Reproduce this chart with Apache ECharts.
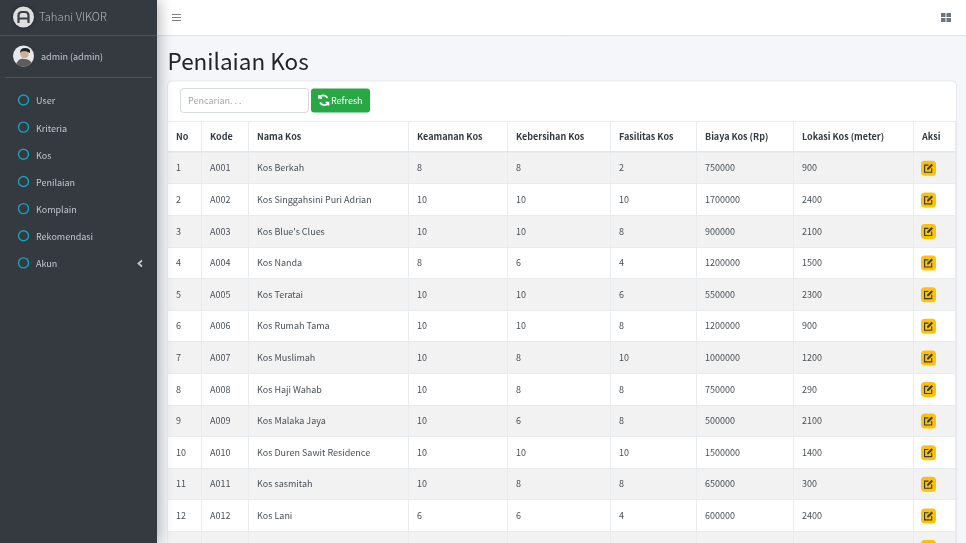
<!DOCTYPE html>
<html>
<head>
<meta charset="utf-8">
<title>Penilaian Kos</title>
<script src="https://cdn.jsdelivr.net/npm/echarts@6/dist/echarts.min.js"></script>
<style>
html,body{margin:0;padding:0;background:#f4f6f9;}
#main{width:966px;height:543px;}
</style>
</head>
<body>
<div id="main"></div>
<script>
// data
var columnNames = ['No','Kode','Nama Kos','Keamanan Kos','Kebersihan Kos','Fasilitas Kos','Biaya Kos (Rp)','Lokasi Kos (meter)','Aksi'];
var rowNo = ['1','2','3','4','5','6','7','8','9','10','11','12'];
var kode = ['A001','A002','A003','A004','A005','A006','A007','A008','A009','A010','A011','A012'];
var namaKos = ['Kos Berkah','Kos Singgahsini Puri Adrian',"Kos Blue's Clues",'Kos Nanda','Kos Teratai','Kos Rumah Tama','Kos Muslimah','Kos Haji Wahab','Kos Malaka Jaya','Kos Duren Sawit Residence','Kos sasmitah','Kos Lani'];
var keamanan = [8,10,10,8,10,10,10,10,10,10,10,6];
var kebersihan = [8,10,10,6,10,10,8,8,6,10,8,6];
var fasilitas = [2,10,8,4,6,8,10,8,8,10,8,4];
var biaya = [750000,1700000,900000,1200000,550000,1200000,1000000,750000,500000,1500000,650000,600000];
var lokasi = [900,2400,2100,1500,2300,900,1200,290,2100,1400,300,2400];
var menuItems = ['User','Kriteria','Kos','Penilaian','Komplain','Rekomendasi','Akun'];

// layout
var FONT = '"Noto Sans CJK SC"';   // its latin glyphs are the closest to the original typeface
var columnWidths = [34,47,160,99,103,86,97,120,42];
var ROW_H = 31.6, HEAD_H = 31;
var rowKeys = rowNo.concat(['13']);   // row 13 is cut off by the window

// the graphic component has no plain path type, so register each icon as a shape
var icons = {
    logoA:'M18.5 23V15.5Q18.5 12 22 12H25Q28.5 12 28.5 15.5V23M18.5 18.5H28.5',
    shirt:'M16 64Q19 58 24 59Q30 59 31.5 63Q28 66.5 23.5 66.5Q19 66.5 16 64Z',
    hair:'M20 53Q20 48 25 48Q31 48 30 53Q27 51 24 51Q21 51 20 53Z',
    chevron:'M142 260.5L138.5 263.5L142 266.5',
    burger:'M172 14.5H181M172 17.5H181M172 20.5H181',
    tiles:'M941 13H945.5V17H941ZM946.5 13H951V17H946.5ZM941 18H945.5V22H941ZM946.5 18H951V22H946.5Z',
    refresh:'M327.5 98A5 5 0 0 0 319 97.5M319 95V98H322M320 102.5A5 5 0 0 0 328.5 103M328.5 105.5V102.5H325.5'
};
Object.keys(icons).forEach(function(k){
    echarts.graphic.registerShape(k, echarts.graphic.extendPath(icons[k]));
});

function plainText(x,y,text,fill,font,z){
    return {type:'text',z:z,style:{x:x,y:y,text:text,fill:fill,font:font,verticalAlign:'middle'}};
}

function buildBody(){
    var cols = [rowNo,kode,namaKos,keamanan,kebersihan,fasilitas,biaya,lokasi];
    var cells = [];
    for(var r=0;r<rowKeys.length;r++){
        for(var c=0;c<columnNames.length;c++){
            var v = (cols[c] && r<rowNo.length) ? String(cols[c][r]) : '';
            cells.push({
                coord:[columnNames[c],rowKeys[r]],
                value:v,
                itemStyle:{color:r%2===0?'#f2f2f2':'#ffffff'}
            });
        }
    }
    return cells;
}

function buildSidebar(){
    var els = [
        {type:'rect',z:10,shape:{x:0,y:0,width:157,height:543},style:{fill:'#343a40',shadowBlur:14,shadowOffsetX:2,shadowColor:'rgba(0,0,0,0.3)'}},
        {type:'line',z:11,shape:{x1:0,y1:35.5,x2:157,y2:35.5},style:{stroke:'#4b545c',lineWidth:1}},
        {type:'line',z:11,shape:{x1:5,y1:77.5,x2:152,y2:77.5},style:{stroke:'#4b545c',lineWidth:1}},
        // logo
        {type:'circle',z:11,shape:{cx:23.5,cy:17,r:10.5},style:{fill:'#dedede',shadowBlur:4,shadowColor:'rgba(0,0,0,0.4)'}},
        {type:'logoA',z:12,style:{fill:null,stroke:'#3a3f45',lineWidth:2.2}},
        plainText(39,17,'Tahani VIKOR','#b4b7ba','300 11.3px '+FONT,12),
        // avatar
        {type:'circle',z:11,shape:{cx:23.5,cy:56,r:10.5},style:{fill:'#e8e8e8'}},
        {type:'shirt',z:12,style:{fill:'#5d5d5a'}},
        {type:'circle',z:12,shape:{cx:24.5,cy:54,r:4.2},style:{fill:'#c9b09c'}},
        {type:'hair',z:13,style:{fill:'#23211f'}},
        plainText(41,56.5,'admin (admin)','#c2c7d0','9px '+FONT,12)
    ];
    for(var i=0;i<menuItems.length;i++){
        var y = 101 + i*27.15;
        els.push({type:'circle',z:12,shape:{cx:23.5,cy:y-1,r:5},style:{fill:null,stroke:'#17a2b8',lineWidth:1.4}});
        els.push(plainText(36,y,menuItems[i],'#c2c7d0','9px '+FONT,12));
    }
    els.push({type:'chevron',z:12,style:{fill:null,stroke:'#c2c7d0',lineWidth:1.8}});
    return els;
}

function buildContent(){
    return [
        // navbar
        {type:'rect',z:1,shape:{x:157,y:0,width:809,height:35.5},style:{fill:'#ffffff'}},
        {type:'line',z:1,shape:{x1:157,y1:35.5,x2:966,y2:35.5},style:{stroke:'#dee2e6',lineWidth:1}},
        {type:'burger',z:2,style:{fill:null,stroke:'#7a8288',lineWidth:1.2}},
        {type:'tiles',z:2,style:{fill:'#6c757d'}},
        plainText(167.5,61.5,'Penilaian Kos','#212529','22.5px '+FONT,2),
        // card
        {type:'rect',z:1,shape:{x:167.5,y:81,width:789,height:480,r:4},style:{fill:'#ffffff',stroke:'#e6e8eb',lineWidth:1}},
        // search + refresh
        {type:'rect',z:2,shape:{x:180.5,y:88.5,width:128,height:24,r:3},style:{fill:'#ffffff',stroke:'#d5dade',lineWidth:1}},
        plainText(188,101,'Pencarian. . .','#a2a8ad','9px '+FONT,3),
        {type:'rect',z:2,shape:{x:311,y:88.5,width:59,height:24,r:3},style:{fill:'#28a745'}},
        {type:'refresh',z:3,style:{fill:null,stroke:'#ffffff',lineWidth:1.7}},
        plainText(331,100.8,'Refresh','#ffffff','9px '+FONT,3)
    ];
}

var myChart = echarts.init(document.getElementById('main'));
var buttonData = rowKeys.map(function(k){ return ['Aksi',k]; });

var option = {
    backgroundColor:'#f4f6f9',
    animation:false,
    graphic:{elements:buildContent().concat(buildSidebar())},
    matrix:{
        z:4,
        left:167.5,top:121,width:788,height:HEAD_H+ROW_H*rowKeys.length,
        x:{
            levelSize:HEAD_H,
            data:columnNames.map(function(n,i){ return {value:n,size:columnWidths[i]}; }),
            label:{position:'insideLeft',distance:5.5,fontFamily:FONT,fontSize:9,fontWeight:'bold',color:'#343a40'},
            itemStyle:{color:'#ffffff',borderColor:'#e9ecef',borderWidth:1},
            dividerLineStyle:{color:'#e4e7ea',width:2}
        },
        y:{
            show:false,
            data:rowKeys.map(function(k){ return {value:k,size:ROW_H}; })
        },
        body:{
            data:buildBody(),
            label:{position:'insideLeft',distance:5.5,fontFamily:FONT,fontSize:9,color:'#495057'},
            itemStyle:{borderColor:'#e9ecef',borderWidth:1}
        },
        backgroundStyle:{color:'#ffffff',borderWidth:0}
    },
    series:[
        {
            type:'scatter',
            coordinateSystem:'matrix',
            symbol:'roundRect',
            symbolSize:15,
            symbolOffset:[-6,0.5],
            itemStyle:{color:'#ffc107',opacity:1},
            silent:true,
            z:5,
            data:buttonData
        },
        {
            type:'scatter',
            coordinateSystem:'matrix',
            symbol:'path://M2 3H8V4.5H3.5V12.5H11.5V8H13V14H2ZM6 8L12 2L14 4L8 10H6Z',
            symbolSize:9,
            symbolOffset:[-6,0.5],
            itemStyle:{color:'#343a40',opacity:1},
            silent:true,
            z:6,
            data:buttonData
        }
    ]
};
myChart.setOption(option);
</script>
</body>
</html>
